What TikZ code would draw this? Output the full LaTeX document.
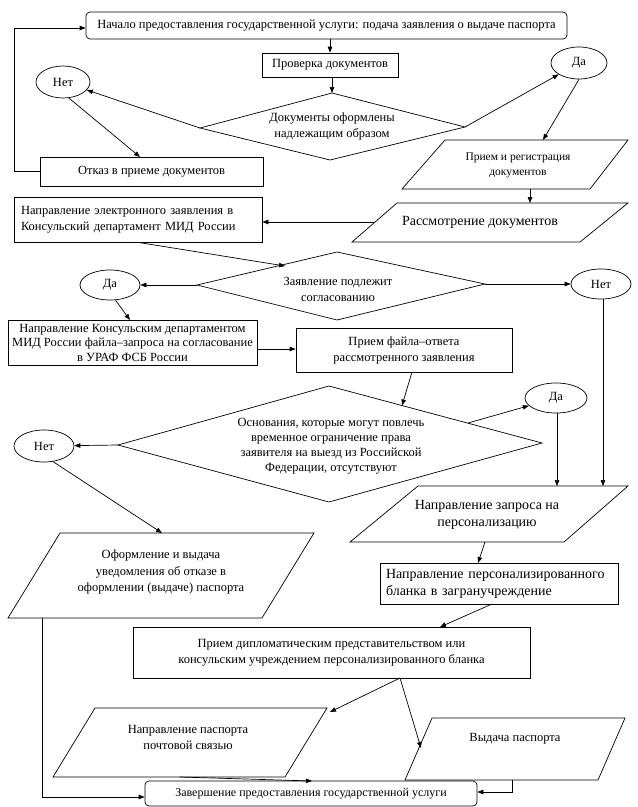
\documentclass[tikz,border=0pt]{standalone}
\usepackage{fontspec}
\setmainfont{Liberation Serif}
\newfontfamily\lser{Liberation Serif}
\usetikzlibrary{arrows.meta,calc,shapes.geometric}
\begin{document}
\begin{tikzpicture}[x=1pt,y=-1pt,
  line width=0.7pt,
  arr/.style={-{Triangle[length=6pt,width=4.5pt]}},
  box/.style={draw,rectangle,inner sep=0pt,align=center},
  oval/.style={draw,ellipse,inner sep=0pt,font=\lser\fontsize{12.5}{14}\selectfont},
  txt/.style={align=center,inner sep=0pt},
  fa/.style={font=\lser\fontsize{12.5}{16}\selectfont},
  fb/.style={font=\lser\fontsize{14}{17}\selectfont},
  fc/.style={font=\lser\fontsize{11.5}{15}\selectfont}]
\fill[white] (0,0) rectangle (638,807);
\useasboundingbox (0,0) rectangle (638,807);

% ---------- nodes ----------
\node[box,rounded corners=4pt,minimum width=481pt,minimum height=27pt,fa] (start) at (326.5,25.5)
  {Начало предоставления государственной услуги: подача заявления о выдаче паспорта};
\node[box,minimum width=136pt,minimum height=24pt,fa] (check) at (330,65) {Проверка документов};

\coordinate (d1t) at (332,93); \coordinate (d1r) at (465,127);
\coordinate (d1b) at (330,160); \coordinate (d1l) at (200,128);
\draw (d1t) -- (d1r) -- (d1b) -- (d1l) -- cycle;
\node[txt,fa] (d1txt) at (332,126) {Документы оформлены\\надлежащим образом};

\node[oval,minimum width=54pt,minimum height=32pt] (net1) at (63,82) {Нет};
\node[oval,minimum width=56pt,minimum height=32pt] (da1) at (579,63) {Да};
\node[box,minimum width=223pt,minimum height=29pt,fa] (otkaz) at (151.5,171.5) {Отказ в приеме документов};

\coordinate (p1a) at (445,140); \coordinate (p1b) at (628,140);
\coordinate (p1c) at (590,189); \coordinate (p1d) at (402,189);
\draw (p1a) -- (p1b) -- (p1c) -- (p1d) -- cycle;
\node[txt,fc] (p1txt) at (518,165) {Прием и регистрация\\документов};

\coordinate (p2a) at (397,203); \coordinate (p2b) at (628,203);
\coordinate (p2c) at (580,242); \coordinate (p2d) at (352,242);
\draw (p2a) -- (p2b) -- (p2c) -- (p2d) -- cycle;
\node[txt,fb] (p2txt) at (480,222) {Рассмотрение документов};

\node[box,minimum width=248pt,minimum height=45pt,text width=234pt,align=left,inner xsep=7pt,fa] (box2) at (138,220)
  {Направление электронного заявления в\\Консульский департамент МИД России};

\coordinate (d2t) at (337,252); \coordinate (d2r) at (485,284);
\coordinate (d2b) at (337,320); \coordinate (d2l) at (197,285);
\draw (d2t) -- (d2r) -- (d2b) -- (d2l) -- cycle;
\node[txt,fa] (d2txt) at (338,289) {Заявление подлежит\\согласованию};

\node[oval,minimum width=60pt,minimum height=30pt] (da2) at (110,285) {Да};
\node[oval,minimum width=60pt,minimum height=30pt] (net2) at (601,284) {Нет};

\node[box,minimum width=249pt,minimum height=45pt,font=\lser\fontsize{12.5}{14.5}\selectfont] (box3) at (132.5,342.5)
  {Направление Консульским департаментом\\МИД России файла–запроса на согласование\\в УРАФ ФСБ России};
\node[box,minimum width=216pt,minimum height=44pt,fa] (box4) at (404,350)
  {Прием файла–ответа\\рассмотренного заявления};

\coordinate (d3t) at (329,386); \coordinate (d3r) at (542,443);
\coordinate (d3b) at (329,502); \coordinate (d3l) at (118,445);
\draw (d3t) -- (d3r) -- (d3b) -- (d3l) -- cycle;
\node[txt,font=\lser\fontsize{12.5}{15}\selectfont] (d3txt) at (331,446)
  {Основания, которые могут повлечь\\временное ограничение права\\заявителя на выезд из Российской\\Федерации, отсутствуют};

\node[oval,minimum width=62pt,minimum height=30pt] (da3) at (556,398) {Да};
\node[oval,minimum width=60pt,minimum height=32pt] (net3) at (44,446) {Нет};

\coordinate (p4a) at (418,486); \coordinate (p4b) at (628,486);
\coordinate (p4c) at (564,542); \coordinate (p4d) at (350,542);
\draw (p4a) -- (p4b) -- (p4c) -- (p4d) -- cycle;
\node[txt,fb] (p4txt) at (487,515) {Направление запроса на\\персонализацию};

\coordinate (p3a) at (60,533); \coordinate (p3b) at (314,533);
\coordinate (p3c) at (262,618); \coordinate (p3d) at (8,618);
\draw (p3a) -- (p3b) -- (p3c) -- (p3d) -- cycle;
\node[txt,font=\lser\fontsize{12.5}{16.5}\selectfont] (p3txt) at (161,572)
  {Оформление и выдача\\уведомления об отказе в\\оформлении (выдаче) паспорта};

\node[box,minimum width=238pt,minimum height=41pt,text width=226pt,align=left,inner xsep=6pt,fb] (box5) at (499,583.5)
  {Направление персонализированного\\бланка в загранучреждение};

\node[box,minimum width=397pt,minimum height=51pt,fa] (box6) at (331.5,652.5)
  {Прием дипломатическим представительством или\\консульским учреждением персонализированного бланка};

\coordinate (p5a) at (95,708); \coordinate (p5b) at (327,708);
\coordinate (p5c) at (285,777); \coordinate (p5d) at (53,777);
\draw (p5a) -- (p5b) -- (p5c) -- (p5d) -- cycle;
\node[txt,fa] (p5txt) at (188,737) {Направление паспорта\\почтовой связью};

\coordinate (p6a) at (432,718); \coordinate (p6b) at (625,718);
\coordinate (p6c) at (598,780); \coordinate (p6d) at (405,780);
\draw (p6a) -- (p6b) -- (p6c) -- (p6d) -- cycle;
\node[txt,fa] (p6txt) at (515,739) {Выдача паспорта};

\node[box,rounded corners=4pt,minimum width=332pt,minimum height=25pt,font=\lser\fontsize{12}{14}\selectfont] (finish) at (311,793.5)
  {Завершение предоставления государственной услуги};

% ---------- connector anchors ----------
\coordinate (c1) at (330,39);
\coordinate (otkt) at (140,157);
\coordinate (p1top) at (543,140);
\coordinate (p1bot) at (530,189);
\coordinate (p2top) at (530,203);
\coordinate (p2left) at (375,222);
\coordinate (b2bot) at (139,242.5);
\coordinate (d2edge) at (285,266);
\coordinate (b3top) at (130,320);
\coordinate (b3r) at (257,349);
\coordinate (b4bot) at (412,372);
\coordinate (d3edge) at (402,405.5);
\coordinate (d3edge2) at (468,423);
\coordinate (p4top1) at (557,486);
\coordinate (p4top2) at (603,486);
\coordinate (p3top) at (162,533);
\coordinate (p3bot) at (42,618);
\coordinate (p4bot) at (485,542);
\coordinate (b5top) at (478,563);
\coordinate (b5bot) at (492,604);
\coordinate (b6top) at (440,627);
\coordinate (b6bot) at (400,678);
\coordinate (p5tip) at (330,712);
\coordinate (p6tip) at (421,748);
\coordinate (p5bot) at (180,777);
\coordinate (fintop) at (312,781);
\coordinate (p6bot) at (512,780);

% ---------- connectors ----------
\draw[arr] (c1) -- (check.north -| c1);
\draw[arr] (check.south -| d1t) -- (d1t);
\draw[arr] (d1l) -- (net1);
\draw[arr] (net1.290) -- (otkt);
\draw[arr] (otkaz.west) -- ++(-25,0) |- ([yshift=-2.5pt]start.west);
\draw[arr] (d1r) -- (da1);
\draw[arr] (da1.south) -- (p1top);
\draw[arr] (p1bot) -- (p2top);
\draw[arr] (p2left) -- (box2.east |- p2left);
\draw[arr] (b2bot) -- (d2edge);
\draw[arr] (d2l) -- (da2);
\draw[arr] (d2r) -- (net2);
\draw[arr] (net2.south -| p4top2) -- (p4top2);
\draw[arr] (da2.290) -- (b3top);
\draw[arr] (b3r) -- (box4.west |- b3r);
\draw[arr] (b4bot) -- (d3edge);
\draw[arr] (d3edge2) -- (da3);
\draw[arr] (da3.south -| p4top1) -- (p4top1);
\draw[arr] (d3l) -- (net3);
\draw[arr] (net3.300) -- (p3top);
\draw[arr] (p3bot) |- ([yshift=-3.5pt]finish.west);
\draw[arr] (p4bot) -- (b5top);
\draw[arr] (b5bot) -- (b6top);
\draw[arr] (b6bot) -- (p5tip);
\draw[arr] (b6bot) -- (p6tip);
\draw[arr] (p5bot) -- (fintop);
\draw[arr] (p6bot) |- ([yshift=1.5pt]finish.east);
\end{tikzpicture}
\end{document}
